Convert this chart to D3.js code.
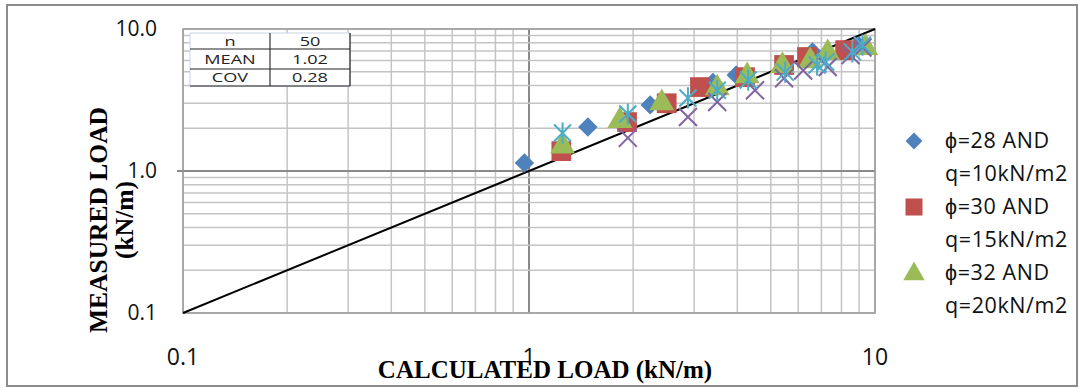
<!DOCTYPE html>
<html>
<head>
<meta charset="utf-8">
<script src="https://cdn.jsdelivr.net/npm/d3@7"></script>
<style>
  body { margin: 0; background: #fff; }
  svg { display: block; }
</style>
</head>
<body>
<div id="container"></div>
<script>
let w = 1080;
let h = 388;

// calculated vs measured load, one list per series
let phi28 = [[0.97, 1.14], [1.48, 2.04], [2.24, 2.92], [3.4, 4.2], [3.97, 4.74], [6.6, 6.9], [9.0, 7.6]];
let phi30 = [[1.24, 1.38], [1.92, 2.21], [2.5, 3.0], [3.12, 3.9], [4.21, 4.58], [5.46, 5.58], [6.36, 6.35], [8.2, 7.1]];
let phi32 = [[1.25, 1.52], [1.83, 2.29], [2.42, 3.06], [3.5, 3.9], [4.27, 4.74], [5.4, 5.6], [6.5, 6.05], [7.3, 6.9], [9.4, 7.5]];
let seriesX = [[1.93, 1.71], [2.88, 2.4], [3.5, 3.06], [4.5, 3.7], [5.46, 4.5], [6.2, 5.1], [7.3, 5.4], [8.5, 6.55], [9.2, 7.4]];
let seriesStar = [[1.25, 1.85], [1.93, 2.52], [2.88, 3.27], [3.5, 3.7], [4.3, 4.37], [5.5, 4.97], [6.8, 5.58], [7.2, 5.85], [8.6, 6.9], [9.2, 7.7]];

let legendLabels = [["ϕ=28 AND", "q=10kN/m2"], ["ϕ=30 AND", "q=15kN/m2"], ["ϕ=32 AND", "q=20kN/m2"]];
let statsRows = [["n", "50"], ["MEAN", "1.02"], ["COV", "0.28"]];
let xTickLabels = ["0.1", "1", "10"];
let yTickLabels = ["0.1", "1.0", "10.0"];
let lineEnds = [0.1, 10];

let viz = d3.select("#container")
  .append("svg")
  .attr("width", w)
  .attr("height", h);

// outer frame
viz.append("rect")
  .attr("x", 7).attr("y", 5)
  .attr("width", 1070).attr("height", 381)
  .attr("fill", "white")
  .attr("stroke", "#8c8c8c")
  .attr("stroke-width", 2);

let x = d3.scaleLog().domain([0.1, 10]).range([183, 875]);
let y = d3.scaleLog().domain([0.1, 10]).range([313, 29]);

let gridGroup = viz.append("g");

let gridVals = x.ticks();

gridGroup.selectAll(".vgrid").data(gridVals).enter()
  .append("line")
  .attr("class", "vgrid")
  .attr("x1", d => x(d)).attr("x2", d => x(d))
  .attr("y1", y(0.1)).attr("y2", y(10))
  .attr("stroke", d => d === 1 ? "#8a8a8a" : "#c4c4c4")
  .attr("stroke-width", d => d === 1 ? 2 : 1.5);

gridGroup.selectAll(".hgrid").data(gridVals).enter()
  .append("line")
  .attr("class", "hgrid")
  .attr("x1", x(0.1)).attr("x2", x(10))
  .attr("y1", d => y(d)).attr("y2", d => y(d))
  .attr("stroke", d => d === 1 ? "#8a8a8a" : "#c4c4c4")
  .attr("stroke-width", d => d === 1 ? 2 : 1.5);

// plot border
viz.append("rect")
  .attr("x", x(0.1)).attr("y", y(10))
  .attr("width", x(10) - x(0.1)).attr("height", y(0.1) - y(10))
  .attr("fill", "none")
  .attr("stroke", "#9a9a9a")
  .attr("stroke-width", 1.5);

// small tick at y = 1
viz.append("line")
  .attr("x1", x(0.1) - 6).attr("x2", x(0.1))
  .attr("y1", y(1)).attr("y2", y(1))
  .attr("stroke", "#8a8a8a").attr("stroke-width", 2);

// stats table
let tblX = 190, tblY = 33, colW = [80, 80], rowH = [16, 20, 17];
let tbl = viz.append("g");
tbl.append("rect")
  .attr("x", tblX).attr("y", tblY)
  .attr("width", d3.sum(colW)).attr("height", d3.sum(rowH))
  .attr("fill", "white")
  .attr("stroke", "#c9d3e3").attr("stroke-width", 1);
let rowTops = rowH.map((r, i) => tblY + d3.sum(rowH.slice(0, i)));
statsRows.forEach((row, i) => {
  if (i > 0) {
    tbl.append("line")
      .attr("x1", tblX).attr("x2", tblX + d3.sum(colW))
      .attr("y1", rowTops[i]).attr("y2", rowTops[i])
      .attr("stroke", "#222").attr("stroke-width", 1.2);
  }
  row.forEach((t, j) => {
    let cx = tblX + d3.sum(colW.slice(0, j)) + colW[j] / 2;
    let cy = rowTops[i] + rowH[i] / 2 + 4.5;
    tbl.append("text")
      .attr("transform", `translate(${cx},${cy}) scale(1.45,1)`)
      .attr("text-anchor", "middle")
      .attr("font-family", "Open Sans, sans-serif")
      .attr("font-size", 12.5)
      .attr("fill", "#222")
      .text(t);
  });
});
tbl.append("line")
  .attr("x1", tblX + colW[0]).attr("x2", tblX + colW[0])
  .attr("y1", tblY).attr("y2", tblY + d3.sum(rowH))
  .attr("stroke", "#333").attr("stroke-width", 1.2);
tbl.append("line")
  .attr("x1", tblX + d3.sum(colW)).attr("x2", tblX + d3.sum(colW))
  .attr("y1", tblY).attr("y2", tblY + d3.sum(rowH))
  .attr("stroke", "#222").attr("stroke-width", 1.2);
tbl.append("line")
  .attr("x1", tblX).attr("x2", tblX + d3.sum(colW))
  .attr("y1", tblY + d3.sum(rowH)).attr("y2", tblY + d3.sum(rowH))
  .attr("stroke", "#222").attr("stroke-width", 1.2);

// 1:1 line
viz.append("line")
  .attr("x1", x(lineEnds[0])).attr("y1", y(lineEnds[0]))
  .attr("x2", x(lineEnds[1])).attr("y2", y(lineEnds[1]))
  .attr("stroke", "black")
  .attr("stroke-width", 2);

// markers
let markGroup = viz.append("g");
let diamond = d3.symbol().type(d3.symbolDiamond2).size(240);
let square = d3.symbol().type(d3.symbolSquare).size(390);
let triangle = d3.symbol().type(d3.symbolTriangle).size(270);

function xPath(s) {
  return `M${-s},${-s}L${s},${s}M${-s},${s}L${s},${-s}`;
}
function starPath(s) {
  return `M${-s},${-s}L${s},${s}M${-s},${s}L${s},${-s}M0,${-s * 1.25}L0,${s * 1.25}`;
}

markGroup.selectAll(".phi28").data(phi28).enter()
  .append("path").attr("class", "phi28")
  .attr("d", diamond)
  .attr("transform", d => `translate(${x(d[0])},${y(d[1])})`)
  .attr("fill", "#4f81bd");

markGroup.selectAll(".phi30").data(phi30).enter()
  .append("path").attr("class", "phi30")
  .attr("d", square)
  .attr("transform", d => `translate(${x(d[0])},${y(d[1])})`)
  .attr("fill", "#c0504d");

markGroup.selectAll(".phi32").data(phi32).enter()
  .append("path").attr("class", "phi32")
  .attr("d", triangle)
  .attr("transform", d => `translate(${x(d[0])},${y(d[1]) + 1})`)
  .attr("fill", "#9bbb59");

markGroup.selectAll(".sx").data(seriesX).enter()
  .append("path").attr("class", "sx")
  .attr("d", xPath(9))
  .attr("transform", d => `translate(${x(d[0])},${y(d[1])})`)
  .attr("fill", "none")
  .attr("stroke", "#8064a2")
  .attr("stroke-width", 2);

markGroup.selectAll(".sstar").data(seriesStar).enter()
  .append("path").attr("class", "sstar")
  .attr("d", starPath(8.5))
  .attr("transform", d => `translate(${x(d[0])},${y(d[1])})`)
  .attr("fill", "none")
  .attr("stroke", "#4bacc6")
  .attr("stroke-width", 2);

// tick labels
viz.selectAll(".xlab").data(xTickLabels).enter()
  .append("text").attr("class", "xlab")
  .attr("x", d => x(+d))
  .attr("y", 365)
  .attr("text-anchor", "middle")
  .attr("font-family", "Open Sans, sans-serif")
  .attr("font-size", 23)
  .attr("fill", "#111")
  .text(d => d);

viz.selectAll(".ylab").data(yTickLabels).enter()
  .append("text").attr("class", "ylab")
  .attr("x", 157)
  .attr("y", d => y(+d) + 7)
  .attr("text-anchor", "end")
  .attr("font-family", "Open Sans, sans-serif")
  .attr("font-size", 21)
  .attr("fill", "#111")
  .text(d => d);

// axis titles
viz.append("text")
  .attr("x", 545).attr("y", 378)
  .attr("text-anchor", "middle")
  .attr("font-family", "Liberation Serif, serif")
  .attr("font-weight", "bold")
  .attr("font-size", 25)
  .attr("fill", "#000")
  .text("CALCULATED LOAD (kN/m)");

let yTitle = viz.append("text")
  .attr("transform", "translate(107,220) rotate(-90)")
  .attr("text-anchor", "middle")
  .attr("font-family", "Liberation Serif, serif")
  .attr("font-weight", "bold")
  .attr("font-size", 25.5)
  .attr("fill", "#000");
yTitle.append("tspan").attr("x", 0).attr("dy", 0).text("MEASURED LOAD");
yTitle.append("tspan").attr("x", 0).attr("dy", 26).text("(kN/m)");

// legend
let legendColors = ["#4f81bd", "#c0504d", "#9bbb59"];
let legendShapes = [
  d3.symbol().type(d3.symbolDiamond2).size(180)(),
  d3.symbol().type(d3.symbolSquare).size(290)(),
  d3.symbol().type(d3.symbolTriangle).size(200)()
];
let legend = viz.append("g");
legendLabels.forEach((lab, i) => {
  let top = 141 + i * 66;
  legend.append("path")
    .attr("d", legendShapes[i])
    .attr("transform", `translate(914,${top + (i === 2 ? 1 : 0)})`)
    .attr("fill", legendColors[i]);
  lab.forEach((t, j) => {
    legend.append("text")
      .attr("x", 945)
      .attr("y", top + 7 + j * 33)
      .attr("font-family", "Open Sans, sans-serif")
      .attr("font-size", 21.5)
      .attr("letter-spacing", 0.6)
      .attr("fill", "#111")
      .text(t);
  });
});
</script>
</body>
</html>
